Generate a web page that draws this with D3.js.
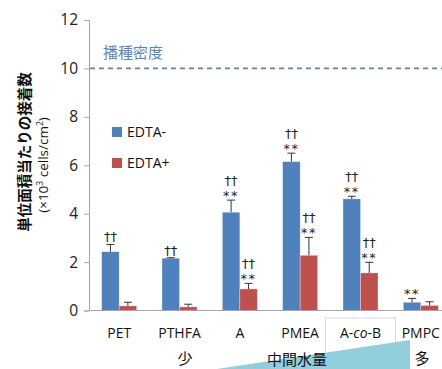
<!DOCTYPE html>
<head>
  <meta charset="utf-8">
  <title>adhesion</title>
  <style>
    body { margin: 0; background: #fff; }
    text { font-family: "Open Sans", "Noto Sans", sans-serif; }
    .jp { font-family: "Noto Sans CJK JP", sans-serif; }
  </style>
</head>

<script src="https://d3js.org/d3.v7.min.js"></script>

<div id="my_dataviz"></div>

<script>
  // data
  const categories = ["PET", "PTHFA", "A", "PMEA", "A-co-B", "PMPC"]
  const series = ["EDTA-", "EDTA+"]
  const edtaMinus = [2.43, 2.16, 4.06, 6.15, 4.61, 0.34]
  const edtaMinusErr = [0.30, 0.02, 0.50, 0.35, 0.11, 0.16]
  const edtaPlus = [0.19, 0.15, 0.89, 2.28, 1.55, 0.21]
  const edtaPlusErr = [0.15, 0.11, 0.23, 0.74, 0.44, 0.15]
  // significance marks: dagger row / star row
  const daggerMinus = [true, true, true, true, true, false]
  const starMinus = [false, false, true, true, true, true]
  const daggerPlus = [false, false, true, true, true, false]
  const starPlus = [false, false, true, true, true, false]
  const yTicks = [0, 2, 4, 6, 8, 10, 12]
  const seedDensity = 10

  const W = 442, H = 369
  const svg = d3.select("#my_dataviz")
    .append("svg")
      .attr("width", W)
      .attr("height", H)

  const color = d3.scaleOrdinal().domain(series).range(["#4F81BD", "#C0504D"])

  const x = d3.scaleBand()
    .domain(categories)
    .range([89, 451])
    .paddingInner(0.42)
    .paddingOuter(0.21)
  const x1 = d3.scaleBand().domain(series).range([0, x.bandwidth()])
  const y = d3.scaleLinear().domain([0, 12]).range([310.5, 20])

  // build rows
  const rows = []
  categories.forEach((c, i) => {
    rows.push({cat: c, s: "EDTA-", v: edtaMinus[i], e: edtaMinusErr[i], dag: daggerMinus[i], star: starMinus[i]})
    rows.push({cat: c, s: "EDTA+", v: edtaPlus[i], e: edtaPlusErr[i], dag: daggerPlus[i], star: starPlus[i]})
  })

  // y axis
  const yAxis = svg.append("g")
    .attr("transform", "translate(89,0)")
    .call(d3.axisLeft(y).tickValues(yTicks).tickSize(5).tickPadding(6).tickSizeOuter(5))
  yAxis.select(".domain").attr("stroke", "#A6A6A6")
  yAxis.selectAll(".tick line").attr("stroke", "#A6A6A6")
  yAxis.selectAll("text").attr("font-size", 15.5).attr("fill", "#222")
    .style("font-family", "'Open Sans', sans-serif")

  // seeding density line
  svg.append("line")
    .attr("x1", 90).attr("x2", W)
    .attr("y1", y(seedDensity)).attr("y2", y(seedDensity))
    .attr("stroke", "#5E82AE").attr("stroke-width", 1.6)
    .attr("stroke-dasharray", "5,4")
  svg.append("text").attr("class", "jp")
    .attr("x", 103).attr("y", y(seedDensity) - 10)
    .attr("font-size", 15).attr("fill", "#5B84BC")
    .text("播種密度")

  // bars
  svg.append("g").selectAll("rect")
    .data(rows)
    .join("rect")
      .attr("x", d => x(d.cat) + x1(d.s))
      .attr("width", x1.bandwidth())
      .attr("y", d => y(d.v))
      .attr("height", d => y(0) - y(d.v))
      .attr("fill", d => color(d.s))
      .attr("stroke", "#ffffff").attr("stroke-opacity", 0.5).attr("stroke-width", 0.6)

  // error bars (upper only)
  const eg = svg.append("g").attr("stroke", "#333").attr("stroke-width", 1)
  rows.forEach(d => {
    const cx = x(d.cat) + x1(d.s) + x1.bandwidth() / 2
    eg.append("line").attr("x1", cx).attr("x2", cx).attr("y1", y(d.v)).attr("y2", y(d.v + d.e))
    eg.append("line").attr("x1", cx - 4).attr("x2", cx + 4).attr("y1", y(d.v + d.e)).attr("y2", y(d.v + d.e))
  })

  // significance marks
  rows.forEach(d => {
    const cx = x(d.cat) + x1(d.s) + x1.bandwidth() / 2
    const top = y(d.v + d.e)
    let off = 3
    if (d.star) {
      svg.append("text").attr("x", cx).attr("y", top)
        .attr("text-anchor", "middle").attr("font-size", 13).attr("fill", "#222")
        .attr("letter-spacing", 1.5)
        .style("font-family", "'DejaVu Sans', sans-serif")
        .text("**")
      off += 12
    }
    if (d.dag) {
      svg.append("text").attr("x", cx).attr("y", top - off)
        .attr("text-anchor", "middle").attr("font-size", 13).attr("fill", "#222")
        .style("font-family", "'DejaVu Sans', sans-serif")
        .text("††")
    }
  })

  // x axis line
  svg.append("line")
    .attr("x1", 89).attr("x2", W)
    .attr("y1", y(0)).attr("y2", y(0))
    .attr("stroke", "#A6A6A6")

  // legend
  series.forEach((s, i) => {
    svg.append("rect").attr("x", 112).attr("y", 127 + i * 31).attr("width", 10).attr("height", 10)
      .attr("fill", color(s))
    svg.append("text").attr("x", 127).attr("y", 137 + i * 31)
      .attr("font-size", 14).attr("fill", "#111").text(s)
  })

  // A-co-B box
  const bx = x("A-co-B") + x.bandwidth() / 2
  svg.append("rect").attr("x", bx - 35).attr("y", 318).attr("width", 70).attr("height", 40)
    .attr("fill", "#fff").attr("stroke", "#D9D9D9")

  // gradient triangle for water content
  svg.append("path")
    .attr("d", "M197,372 L410,340 L410,372 Z")
    .attr("fill", "#92CDDC")

  // category labels
  categories.forEach(c => {
    const t = svg.append("text")
      .attr("x", x(c) + x.bandwidth() / 2)
      .attr("y", 338)
      .attr("text-anchor", "middle")
      .attr("font-size", 14).attr("fill", "#111")
    if (c === "A-co-B") {
      t.append("tspan").text("A-")
      t.append("tspan").attr("font-style", "italic").text("co")
      t.append("tspan").text("-B")
    } else {
      t.text(c)
    }
  })

  // water content labels
  svg.append("text").attr("class", "jp").attr("x", 185).attr("y", 364)
    .attr("text-anchor", "middle").attr("font-size", 15).attr("fill", "#111").text("少")
  svg.append("text").attr("class", "jp").attr("x", 297).attr("y", 365)
    .attr("text-anchor", "middle").attr("font-size", 15).attr("fill", "#111").text("中間水量")
  svg.append("text").attr("class", "jp").attr("x", 422).attr("y", 364)
    .attr("text-anchor", "middle").attr("font-size", 15).attr("fill", "#111").text("多")

  // y title
  svg.append("text").attr("class", "jp")
    .attr("transform", "translate(30,152) rotate(-90)")
    .attr("text-anchor", "middle").attr("font-size", 14.5).attr("font-weight", "bold").attr("fill", "#111")
    .text("単位面積当たりの接着数")
  const sub = svg.append("text")
    .attr("transform", "translate(48,165) rotate(-90)")
    .attr("text-anchor", "middle").attr("font-size", 13.5).attr("fill", "#111")
  sub.append("tspan").text("(×10")
  sub.append("tspan").attr("font-size", 8.5).attr("dy", -5).text("3")
  sub.append("tspan").attr("dy", 5).text(" cells/cm")
  sub.append("tspan").attr("font-size", 8.5).attr("dy", -5).text("2")
  sub.append("tspan").attr("dy", 5).text(")")
</script>
